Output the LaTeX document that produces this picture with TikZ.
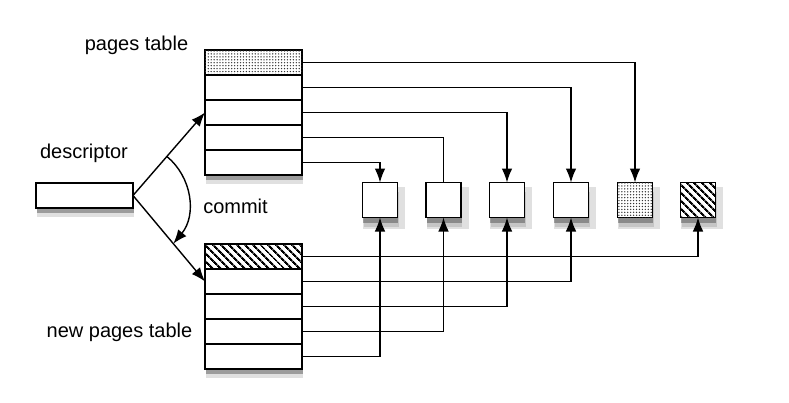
\documentclass[tikz,border=0pt]{standalone}
\usepackage{fontspec}
\setmainfont{Liberation Sans}
\usetikzlibrary{patterns,patterns.meta,shadows,arrows.meta}
\begin{document}
\begin{tikzpicture}[x=0.75pt,y=-0.75pt]
	% Styles
	\tikzstyle{fleche}=[->,>={Latex[length=10.5pt,width=8pt]},line width=1.05pt]
	\tikzstyle{trait}=[-,line width=1.05pt]
	\tikzstyle{ombre}=[drop shadow={shadow xshift=1pt,shadow yshift=-7pt,opacity=0.12,fill=black},drop shadow={shadow xshift=0.5pt,shadow yshift=-4pt,opacity=0.3,fill=black}]
	\tikzstyle{case}=[draw,line width=1.25pt,fill=white,ombre,minimum width=72.75pt,minimum height=18.75pt,inner sep=0pt,outer sep=0pt]
	\tikzstyle{page}=[draw,line width=1.25pt,fill=white,drop shadow={shadow scale=1.2,shadow yshift=-5pt,opacity=0.12,fill=black},ombre,minimum size=26.25pt,inner sep=0pt,outer sep=0pt]
	\tikzstyle{pointille}=[postaction={pattern={Dots[distance=2.2pt,radius=0.55pt]},pattern color=black!80}]
	\tikzstyle{hachure}=[postaction={pattern={Lines[angle=-45,distance=4pt,line width=1.6pt]},pattern color=black}]
	\tikzstyle{etiquette}=[font=\fontsize{15}{18}\selectfont,anchor=base,inner sep=0pt]
	% Dimensions
	\def\ColonneTable{253.5}
	\def\HauteurLigne{25}
	\def\HautAncienne{62.5}
	\def\HautNouvelle{256.5}
	\def\NiveauPages{200}
	\useasboundingbox (0,0) rectangle (789,403);
	% Tables
	\node[case,pointille] (A0) at ({\ColonneTable},{\HautAncienne+0*\HauteurLigne}) {};
	\node[case] (A1) at ({\ColonneTable},{\HautAncienne+1*\HauteurLigne}) {};
	\node[case] (A2) at ({\ColonneTable},{\HautAncienne+2*\HauteurLigne}) {};
	\node[case] (A3) at ({\ColonneTable},{\HautAncienne+3*\HauteurLigne}) {};
	\node[case] (A4) at ({\ColonneTable},{\HautAncienne+4*\HauteurLigne}) {};
	%
	\node[case,hachure] (B0) at ({\ColonneTable},{\HautNouvelle+0*\HauteurLigne}) {};
	\node[case] (B1) at ({\ColonneTable},{\HautNouvelle+1*\HauteurLigne}) {};
	\node[case] (B2) at ({\ColonneTable},{\HautNouvelle+2*\HauteurLigne}) {};
	\node[case] (B3) at ({\ColonneTable},{\HautNouvelle+3*\HauteurLigne}) {};
	\node[case] (B4) at ({\ColonneTable},{\HautNouvelle+4*\HauteurLigne}) {};
	%
	\node[case] (D) at (84.5,195.5) {};
	% Pages
	\node[page] (P1) at (380,{\NiveauPages}) {};
	\node[page] (P2) at (443.5,{\NiveauPages}) {};
	\node[page] (P3) at (507,{\NiveauPages}) {};
	\node[page] (P4) at (571,{\NiveauPages}) {};
	\node[page,pointille] (P5) at (635,{\NiveauPages}) {};
	\node[page,hachure] (P6) at (698,{\NiveauPages}) {};
	% Textes
	\node[etiquette] (titreAncienne) at (136.5,51) {pages table};
	\node[etiquette] (titreNouvelle) at (119.5,337) {new pages table};
	\node[etiquette] (titreDescripteur) at (84,158) {descriptor};
	\node[etiquette] (titreCommit) at (235.5,213) {commit};
	% Arcs
	\draw[fleche] (D.east) -- (A2.west) coordinate[pos=0.47] (departCommit);
	\draw[fleche] (D.east) -- (B1.west) coordinate[pos=0.56] (finCommit);
	\draw[fleche] (departCommit) .. controls (192,177) and (197,215) .. (finCommit);
	%
	\draw[fleche] (A0.east) -| (P5.north);
	\draw[fleche] (A1.east) -| (P4.north);
	\draw[fleche] (A2.east) -| (P3.north);
	\draw[trait] (A3.east) -| (P2.north);
	\draw[fleche] (A4.east) -| (P1.north);
	%
	\draw[fleche] (B0.east) -| (P6.south);
	\draw[fleche] (B1.east) -| (P4.south);
	\draw[fleche] (B2.east) -| (P3.south);
	\draw[fleche] (B3.east) -| (P2.south);
	\draw[fleche] (B4.east) -| (P1.south);
\end{tikzpicture}
\end{document}
